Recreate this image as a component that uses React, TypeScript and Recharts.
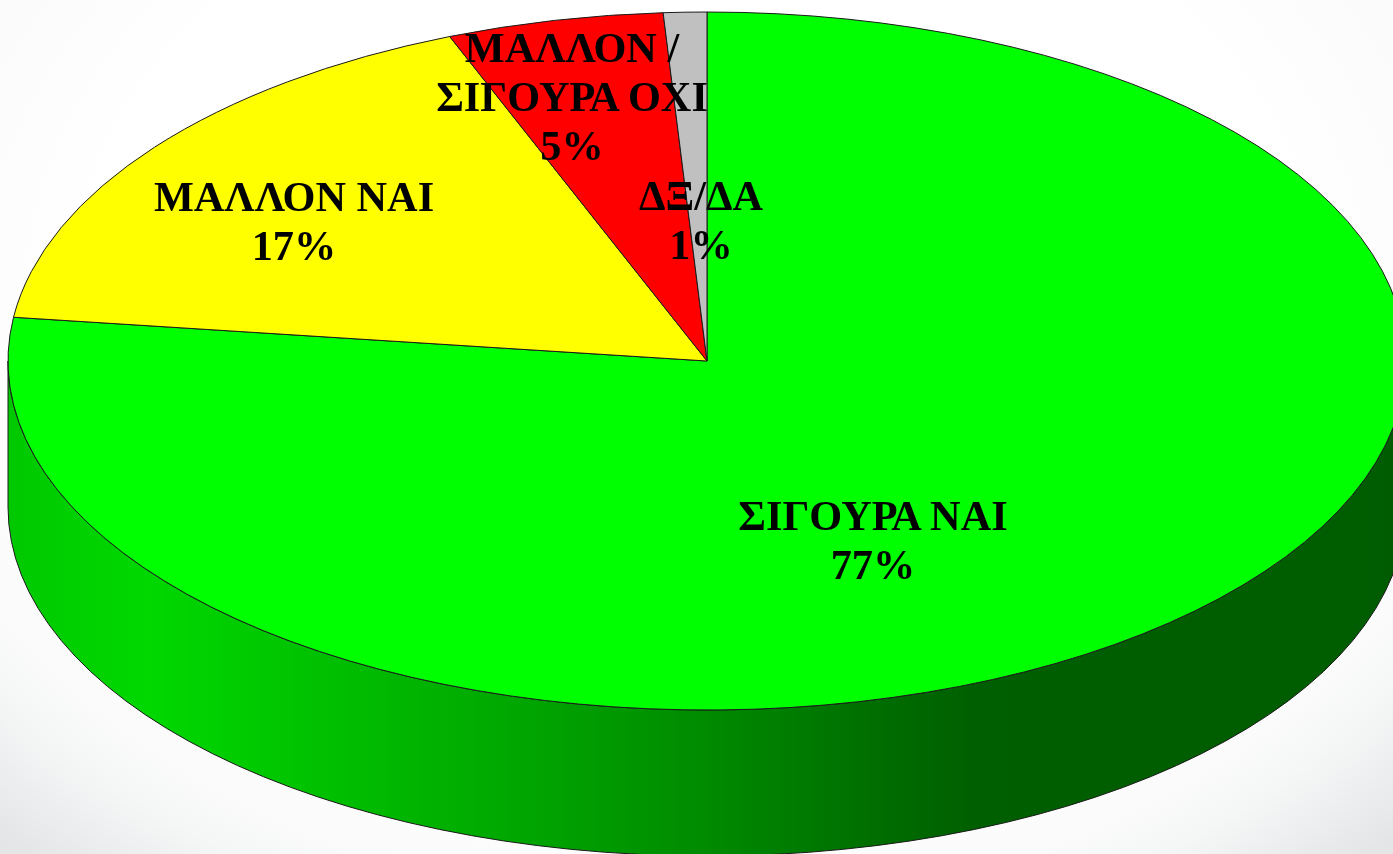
import React from 'react';
import { PieChart, Pie, Cell } from 'recharts';

const categories = ['ΣΙΓΟΥΡΑ ΝΑΙ', 'ΜΑΛΛΟΝ ΝΑΙ', 'ΜΑΛΛΟΝ / ΣΙΓΟΥΡΑ ΟΧΙ', 'ΔΞ/ΔΑ'];
const percents = [77, 17, 5, 1];
const labelLines = [['ΣΙΓΟΥΡΑ ΝΑΙ'], ['ΜΑΛΛΟΝ ΝΑΙ'], ['ΜΑΛΛΟΝ /', 'ΣΙΓΟΥΡΑ ΟΧΙ'], ['ΔΞ/ΔΑ']];
const sliceColors = ['#00ff00', '#ffff00', '#ff0000', '#c0c0c0'];

const data = categories.map((name, i) => ({ name, value: percents[i] }));

const WIDTH = 1393;
const HEIGHT = 854;
const CX = 707;
const CY = 361;
const RX = 699;
const RY = 349;
const DEPTH = 146;
const FONT_SIZE = 42.3;
const LINE_HEIGHT = 49;

// first baseline of each label, relative to the pie centre
const labelOffsets = [
    { dx: 166, dy: 169 },
    { dx: -413, dy: -150 },
    { dx: -135, dy: -299 },
    { dx: -6, dy: -151 },
];

const px = (cx: number, r: number, deg: number) => cx + r * Math.cos((deg * Math.PI) / 180);
const py = (cy: number, r: number, deg: number) => cy - r * (RY / RX) * Math.sin((deg * Math.PI) / 180);

// Recharts gives us the angles, we only squash the circle into an ellipse
const EllipseSlice = (props: any) => {
    const { cx, cy, outerRadius: r, startAngle, endAngle, fill } = props;
    const ry = r * (RY / RX);
    const large = Math.abs(startAngle - endAngle) > 180 ? 1 : 0;
    const d = `M${cx},${cy} L${px(cx, r, startAngle)},${py(cy, r, startAngle)} A${r},${ry} 0 ${large} 1 ${px(cx, r, endAngle)},${py(cy, r, endAngle)} Z`;
    return <path d={d} fill={fill} stroke="#1a1a1a" strokeWidth={1} strokeLinejoin="round" />;
};

// the visible side wall is only the part of a slice in the front half
const WallSlice = (props: any) => {
    const { cx, cy, outerRadius: r, startAngle, endAngle } = props;
    const ry = r * (RY / RX);
    const from = Math.min(startAngle, 0);
    const to = Math.max(endAngle, -180);
    if (from <= to) return <g />;
    const x1 = px(cx, r, from);
    const y1 = py(cy, r, from);
    const x2 = px(cx, r, to);
    const y2 = py(cy, r, to);
    const d = `M${x1},${y1} A${r},${ry} 0 0 1 ${x2},${y2} L${x2},${y2 + DEPTH} A${r},${ry} 0 0 0 ${x1},${y1 + DEPTH} Z`;
    return <path d={d} fill="url(#wallShade)" stroke="#1a1a1a" strokeWidth={1} />;
};

const renderLabel = (props: any) => {
    const { index, cx, cy } = props;
    const { dx, dy } = labelOffsets[index];
    const lines = [...labelLines[index], `${percents[index]}%`];
    return (
        <text
            x={cx + dx}
            y={cy + dy}
            textAnchor="middle"
            fontFamily="'Liberation Serif', serif"
            fontWeight="bold"
            fontSize={FONT_SIZE}
            fill="#000"
        >
            {lines.map((line, i) => (
                <tspan key={i} x={cx + dx} y={cy + dy + i * LINE_HEIGHT}>
                    {line}
                </tspan>
            ))}
        </text>
    );
};

export default function App() {
    return (
        <div
            style={{
                position: 'absolute',
                left: 0,
                top: 0,
                width: WIDTH,
                height: HEIGHT,
                overflow: 'hidden',
                background:
                    'radial-gradient(1000px 750px at 696px 300px, #ffffff 60%, #fbfbfb 80%, #f5f6f6 87%, #e4e5e7 100%)',
            }}
        >
            {/* the reference is a soft upscaled screenshot */}
            <div style={{ filter: 'blur(0.5px)' }}>
                <PieChart width={WIDTH} height={HEIGHT} margin={{ top: 0, right: 0, bottom: 0, left: 0 }}>
                    <defs>
                        <linearGradient id="wallShade" gradientUnits="userSpaceOnUse" x1={8} y1={0} x2={1393} y2={0}>
                            <stop offset="0" stopColor="#00c800" />
                            <stop offset="0.1" stopColor="#00d800" />
                            <stop offset="0.25" stopColor="#00bc00" />
                            <stop offset="0.38" stopColor="#00a400" />
                            <stop offset="0.507" stopColor="#008a00" />
                            <stop offset="0.635" stopColor="#006c00" />
                            <stop offset="0.7" stopColor="#005f00" />
                            <stop offset="1" stopColor="#005c00" />
                        </linearGradient>
                    </defs>
                    <Pie
                        data={data}
                        dataKey="value"
                        nameKey="name"
                        cx={CX}
                        cy={CY}
                        outerRadius={RX}
                        startAngle={90}
                        endAngle={-270}
                        shape={WallSlice}
                        label={false}
                        labelLine={false}
                        isAnimationActive={false}
                    />
                    <Pie
                        data={data}
                        dataKey="value"
                        nameKey="name"
                        cx={CX}
                        cy={CY}
                        outerRadius={RX}
                        startAngle={90}
                        endAngle={-270}
                        shape={EllipseSlice}
                        label={renderLabel}
                        labelLine={false}
                        isAnimationActive={false}
                    >
                        {data.map((d, i) => (
                            <Cell key={d.name} fill={sliceColors[i]} />
                        ))}
                    </Pie>
                </PieChart>
            </div>
        </div>
    );
}
